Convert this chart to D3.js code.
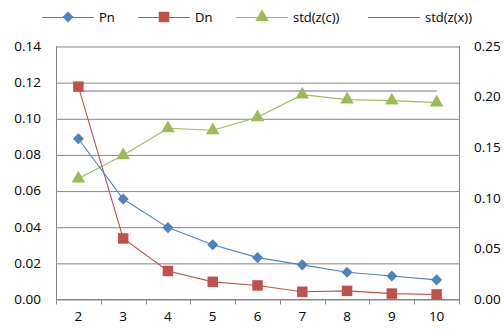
<!DOCTYPE html>
<html>
<head>
<meta charset="utf-8">
<script src="https://cdn.jsdelivr.net/npm/d3@7"></script>
<style>
  body { margin: 0; background: #fff; }
  svg text { font-family: "Open Sans", "Liberation Sans", sans-serif; fill: #000; }
</style>
</head>
<body>
<script>
// data
var categories = ["2", "3", "4", "5", "6", "7", "8", "9", "10"];
var pnValues = [0.0887, 0.0553, 0.0395, 0.0300, 0.0229, 0.0189, 0.0148, 0.0127, 0.0106];
var dnValues = [0.1175, 0.0335, 0.0155, 0.0095, 0.0075, 0.0040, 0.0045, 0.0030, 0.0025];
var stdZcValues = [0.119, 0.142, 0.1687, 0.1667, 0.1795, 0.2019, 0.197, 0.196, 0.194];
var stdZxValues = [0.2055, 0.2055, 0.2055, 0.2055, 0.2055, 0.2055, 0.2055, 0.2055, 0.2055];
var leftTicks = [0, 0.02, 0.04, 0.06, 0.08, 0.10, 0.12, 0.14];
var rightTicks = [0, 0.05, 0.10, 0.15, 0.20, 0.25];
var seriesNames = ["Pn", "Dn", "std(z(c))", "std(z(x))"];

var width = 504, height = 333;
var margin = {left: 56, right: 45, top: 46, bottom: 34};

var svg = d3.select("body").append("svg")
  .attr("width", width)
  .attr("height", height);

var x = d3.scaleBand()
  .domain(categories)
  .range([margin.left, width - margin.right])
  .padding(0);

var yLeft = d3.scaleLinear()
  .domain([0, 0.14])
  .range([height - margin.bottom, margin.top]);

var yRight = d3.scaleLinear()
  .domain([0, 0.25])
  .range([height - margin.bottom, margin.top]);

var gridColor = "#868686";
var cx = function(d, i) { return x(categories[i]) + x.bandwidth() / 2; };

// horizontal gridlines (left axis)
svg.append("g")
  .attr("class", "grid")
  .attr("transform", "translate(" + margin.left + ",0.5)")
  .call(d3.axisLeft(yLeft).tickValues(leftTicks)
    .tickSize(-(width - margin.right - margin.left))
    .tickFormat(""))
  .call(function(g) { g.select(".domain").remove(); })
  .selectAll("line")
  .attr("stroke", gridColor);

// left axis labels
svg.append("g")
  .attr("transform", "translate(" + margin.left + ",0)")
  .call(d3.axisLeft(yLeft).tickValues(leftTicks).tickSize(0).tickPadding(15)
    .tickFormat(d3.format(".2f")))
  .call(function(g) { g.select(".domain").remove(); })
  .selectAll("text")
  .style("font-size", "13.5px");

// right axis labels
svg.append("g")
  .attr("transform", "translate(" + (width - margin.right) + ",0)")
  .call(d3.axisRight(yRight).tickValues(rightTicks).tickSize(0).tickPadding(15)
    .tickFormat(d3.format(".2f")))
  .call(function(g) { g.select(".domain").remove(); })
  .selectAll("text")
  .style("font-size", "13.5px");

// axis lines
var x0 = margin.left + 0.5, x1 = width - margin.right + 0.5;
var yb = height - margin.bottom + 0.5;
svg.append("line").attr("x1", x0).attr("x2", x0)
  .attr("y1", margin.top).attr("y2", yb + 5).attr("stroke", gridColor);
svg.append("line").attr("x1", x1).attr("x2", x1)
  .attr("y1", margin.top).attr("y2", yb + 5).attr("stroke", gridColor);
svg.append("line").attr("x1", x0).attr("x2", x1)
  .attr("y1", yb).attr("y2", yb).attr("stroke", gridColor);

// category tick marks between bands
var boundaries = categories.slice(1).map(function(c) { return x(c); });
svg.append("g").selectAll("line")
  .data(boundaries)
  .enter().append("line")
  .attr("x1", d => Math.round(d) + 0.5)
  .attr("x2", d => Math.round(d) + 0.5)
  .attr("y1", yb)
  .attr("y2", yb + 5)
  .attr("stroke", gridColor);

// category labels
svg.append("g")
  .attr("transform", "translate(0," + (height - margin.bottom) + ")")
  .call(d3.axisBottom(x).tickSize(0).tickPadding(12))
  .call(function(g) { g.select(".domain").remove(); })
  .selectAll("text")
  .style("font-size", "13.5px");

var colors = ["#4F81BD", "#C0504D", "#9BBB59", "#8064A2"];

function drawLine(values, yScale, color) {
  var line = d3.line()
    .x(cx)
    .y(d => yScale(d));
  svg.append("path")
    .attr("d", line(values))
    .attr("fill", "none")
    .attr("stroke", color)
    .attr("stroke-width", 1.1);
}

drawLine(stdZxValues, yRight, colors[3]);
drawLine(stdZcValues, yRight, colors[2]);
drawLine(dnValues, yLeft, colors[1]);
drawLine(pnValues, yLeft, colors[0]);

var diamond = d3.symbol().type(d3.symbolDiamond2).size(78)();
var square = d3.symbol().type(d3.symbolSquare).size(110)();
var triangle = d3.symbol().type(d3.symbolTriangle).size(80)();

function drawMarkers(values, yScale, path, color, dy) {
  svg.append("g").selectAll("path")
    .data(values)
    .enter().append("path")
    .attr("d", path)
    .attr("transform", (d, i) => "translate(" + cx(d, i) + "," + (yScale(d) + (dy || 0)) + ")")
    .attr("fill", color);
}

drawMarkers(stdZcValues, yRight, triangle, colors[2], 0);
drawMarkers(dnValues, yLeft, square, colors[1]);
drawMarkers(pnValues, yLeft, diamond, colors[0]);

// legend
var legendX = [42, 138, 236, 368];
var legendMarks = [diamond, square, triangle, null];
var legendY = 17;
var legend = svg.append("g");
seriesNames.forEach(function(name, i) {
  legend.append("line")
    .attr("x1", legendX[i]).attr("x2", legendX[i] + 52)
    .attr("y1", legendY + 0.5).attr("y2", legendY + 0.5)
    .attr("stroke", colors[i])
    .attr("stroke-width", 1.1);
  if (legendMarks[i]) {
    legend.append("path")
      .attr("d", legendMarks[i])
      .attr("transform", "translate(" + (legendX[i] + 26) + "," + legendY + ")")
      .attr("fill", colors[i]);
  }
  legend.append("text")
    .attr("x", legendX[i] + 57)
    .attr("y", legendY + 5)
    .style("font-size", "13px")
    .text(name);
});
</script>
</body>
</html>
